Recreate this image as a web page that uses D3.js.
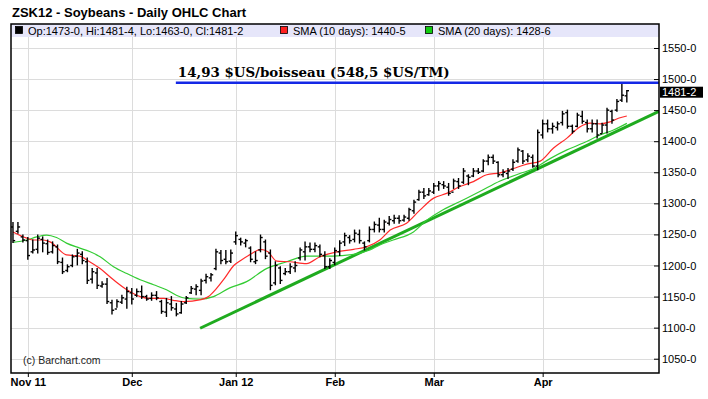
<!DOCTYPE html>
<html>
<head>
<meta charset="utf-8">
<script src="https://cdn.jsdelivr.net/npm/d3@7"></script>
<style>
  body { margin: 0; background: #fff; }
  text { font-family: "Liberation Sans", Arial, sans-serif; }
</style>
</head>
<body>
<div id="chart"></div>
<script>

// bar data (Oct 27 2011 .. Apr 26 2012, one entry per trading day)
var highs = [1269,1269,1249,1245,1241,1249,1246,1241,1238,1233,1212,1201,1217,1226,1222,1212,1195,1195,1174,1179,
             1144,1145,1152,1165,1163,1162,1167,1152,1156,1158,1144,1147,1150,1139,1142,1150,1166,1169,1178,1186,
             1187,1226,1224,1224,1225,1254,1244,1242,1230,1222,1249,1241,1225,1206,1198,1195,1203,1206,1228,1238,
             1236,1236,1233,1222,1211,1228,1240,1252,1248,1257,1257,1238,1262,1270,1276,1273,1279,1281,1280,1281,
             1292,1305,1321,1324,1324,1332,1335,1335,1332,1339,1340,1356,1346,1356,1356,1370,1378,1378,1367,1354,
             1356,1370,1389,1385,1380,1378,1418,1434,1434,1429,1431,1448,1450,1426,1445,1448,1434,1434,1434,1429,
             1453,1450,1467,1494,1481.5];
var lows  = [1237,1252,1238,1210,1220,1220,1222,1218,1220,1203,1187,1190,1198,1201,1203,1171,1172,1163,1165,1139,
             1122,1133,1139,1131,1138,1150,1147,1144,1144,1145,1123,1118,1128,1119,1123,1139,1155,1153,1153,1172,
             1175,1193,1203,1203,1205,1234,1233,1230,1206,1203,1222,1211,1161,1169,1171,1185,1187,1190,1209,1209,
             1222,1222,1214,1195,1195,1201,1216,1232,1236,1238,1236,1225,1238,1254,1254,1254,1265,1268,1268,1271,
             1273,1284,1305,1308,1313,1316,1321,1324,1313,1324,1324,1332,1330,1343,1348,1351,1362,1364,1343,1343,
             1340,1353,1366,1364,1367,1358,1354,1405,1415,1413,1418,1426,1421,1413,1423,1429,1415,1415,1405,1413,
             1413,1429,1448,1464,1463];
var opens = [1262,1255,1246,1240,1222,1226,1242,1235,1222,1230,1205,1192,1200,1215,1218,1206,1178,1188,1167,1170,
             1140,1130,1141,1146,1156,1152,1158,1150,1147,1152,1142,1125,1138,1130,1124,1140,1156,1162,1160,1176,
             1180,1195,1220,1210,1207,1238,1242,1236,1228,1206,1225,1238,1220,1172,1196,1187,1190,1196,1212,1222,
             1230,1226,1230,1216,1198,1205,1222,1238,1245,1242,1250,1236,1240,1258,1265,1258,1268,1272,1276,1273,
             1276,1288,1306,1318,1314,1318,1328,1330,1326,1318,1335,1334,1344,1344,1352,1352,1368,1374,1366,1346,
             1348,1355,1368,1384,1370,1374,1360,1410,1428,1420,1422,1430,1446,1424,1424,1440,1430,1420,1428,1412,
             1426,1448,1450,1466,1473];
var closes = [1240,1262,1241,1216,1225,1244,1236,1221,1232,1206,1190,1198,1214,1220,1208,1176,1190,1168,1170,1142,
              1128,1142,1148,1158,1146,1158,1150,1146,1152,1148,1126,1140,1132,1122,1138,1148,1163,1166,1175,1182,
              1185,1222,1208,1206,1220,1248,1238,1240,1210,1208,1245,1215,1168,1200,1176,1190,1198,1200,1225,1230,
              1226,1232,1218,1198,1208,1224,1236,1248,1240,1252,1240,1230,1258,1266,1258,1270,1274,1276,1272,1278,
              1290,1302,1318,1312,1320,1328,1332,1328,1316,1336,1328,1352,1342,1352,1350,1368,1374,1368,1346,1350,
              1352,1366,1386,1368,1376,1360,1414,1428,1420,1424,1428,1444,1424,1416,1442,1432,1420,1428,1410,1426,
              1450,1434,1464,1474,1481.25];

// moving averages: [bar index, value]
var sma10 = [[0,1254],[2.8,1244],[4.1,1241],[6.1,1241],[7.5,1238],[10.8,1217],[13.5,1215],[14.9,1209],[17.6,1195],
             [20.3,1177],[23,1161],[25.7,1150],[27.7,1147],[30.4,1147],[32.4,1144],[34.4,1142],[38,1145],[39.5,1150],
             [41,1162],[42.8,1180],[44.6,1200],[46,1208],[48,1218],[50,1226],[51.5,1222],[53.3,1207],[55.9,1206],
             [59.3,1203],[62,1214],[65.4,1222],[68.8,1226],[71.4,1230],[74.1,1241],[76.2,1257],[79.5,1268],[82.2,1289],
             [84.9,1308],[87.6,1316],[90.3,1327],[93,1335],[95.7,1346],[98.4,1349],[101.1,1356],[103.8,1363],
             [106.5,1368],[109.2,1389],[111.9,1405],[114.5,1423],[116.6,1429],[118.6,1428],[120.6,1431],[122.3,1437],
             [124,1440.6]];
var sma20 = [[0,1237],[2.8,1241],[4.8,1246],[6.8,1249],[8.8,1245],[10.8,1236],[13.5,1228],[15.6,1222],[17.6,1214],
             [20.3,1198],[23,1187],[25.7,1177],[28.4,1169],[31,1161],[33,1152],[35,1147],[37.8,1146],[40.5,1150],
             [43.8,1164],[47.2,1174],[51.2,1195],[55.3,1206],[59.3,1215],[62.7,1215],[66.5,1216],[70.1,1220],
             [72.1,1225],[74.1,1233],[76.8,1241],[80.9,1254],[83.6,1273],[86.3,1287],[90.3,1303],[94.3,1319],
             [98.4,1336],[102.4,1348],[105,1355],[108.5,1372],[111.9,1386],[115.2,1397],[118.6,1410],[121.3,1418],
             [124,1428.75]];

// drawn annotations
var trendLine = [[37.8,1099],[130.5,1448]];
var targetLine = [[32.9,1494],[130.5,1494]];
var targetLabel = "14,93 $US/boisseau (548,5 $US/TM)";

// axes
var monthTicks = [3,24,45,65,85,107];
var monthLabels = ["Nov 11","Dec","Jan 12","Feb","Mar","Apr"];
var priceTicks = [1050,1100,1150,1200,1250,1300,1350,1400,1450,1500,1550];
var lastLabel = "1481-2";

var legendItems = [
    {text: "Op:1473-0, Hi:1481-4, Lo:1463-0, Cl:1481-2", color: "#000", x: 15},
    {text: "SMA (10 days): 1440-5", color: "#ff2020", x: 280},
    {text: "SMA (20 days): 1428-6", color: "#11cc11", x: 425}
];

function drawChart(){

    var W = 708, H = 399;
    var plot = {left: 11, right: 659, top: 24, bottom: 373};

    var svg = d3.select("#chart").append("svg")
        .attr("width", W)
        .attr("height", H);

    svg.append("rect").attr("width", W).attr("height", H).attr("fill", "#fff");

    var x = d3.scaleLinear()
        .domain([-0.4, 130.5])
        .range([plot.left, plot.right]);

    var y = d3.scaleLinear()
        .domain([1027, 1588.6])
        .range([plot.bottom, plot.top]);

    // title
    svg.append("text")
        .attr("x", 12).attr("y", 17)
        .attr("font-size", "13px")
        .attr("font-weight", "bold")
        .text("ZSK12 - Soybeans - Daily OHLC Chart");

    // grid
    var grid = svg.append("g");
    grid.selectAll("line.h")
      .data(priceTicks)
      .enter().append("line")
        .attr("x1", plot.left).attr("x2", plot.right)
        .attr("y1", function(d) { return Math.round(y(d)) + 0.5; })
        .attr("y2", function(d) { return Math.round(y(d)) + 0.5; })
        .attr("stroke", "#dcdcdc");
    grid.selectAll("line.v")
      .data(monthTicks)
      .enter().append("line")
        .attr("y1", plot.top).attr("y2", plot.bottom)
        .attr("x1", function(d) { return Math.round(x(d)) + 0.5; })
        .attr("x2", function(d) { return Math.round(x(d)) + 0.5; })
        .attr("stroke", "#dcdcdc");

    // legend band
    svg.append("rect")
        .attr("x", plot.left).attr("y", plot.top)
        .attr("width", plot.right - plot.left).attr("height", 13)
        .attr("fill", "#e6e6fa");

    var leg = svg.append("g").selectAll("g")
      .data(legendItems)
      .enter().append("g");
    leg.append("rect")
        .attr("x", function(d) { return d.x + 0.5; })
        .attr("y", 26.5)
        .attr("width", 7).attr("height", 7)
        .attr("fill", function(d) { return d.color; })
        .attr("stroke", "#000")
        .attr("stroke-width", 0.8);
    leg.append("text")
        .attr("x", function(d) { return d.x + 13; })
        .attr("y", 34.5)
        .attr("font-size", "11px")
        .text(function(d) { return d.text; });

    // clip for marks
    svg.append("clipPath")
        .attr("id", "clip")
      .append("rect")
        .attr("x", plot.left).attr("y", plot.top + 13)
        .attr("width", plot.right - plot.left)
        .attr("height", plot.bottom - plot.top - 13);

    var marks = svg.append("g").attr("clip-path", "url(#clip)");

    // trend line
    var line = d3.line()
        .x(function(d) { return x(d[0]); })
        .y(function(d) { return y(d[1]); });

    marks.append("path")
        .datum(trendLine)
        .attr("d", line)
        .attr("fill", "none")
        .attr("stroke", "#1fab1f")
        .attr("stroke-width", 3);

    // moving averages
    var smooth = d3.line()
        .curve(d3.curveMonotoneX)
        .x(function(d) { return x(d[0]); })
        .y(function(d) { return y(d[1]); });

    marks.append("path")
        .datum(sma20)
        .attr("d", smooth)
        .attr("fill", "none")
        .attr("stroke", "#33cc33")
        .attr("stroke-width", 1.2);

    marks.append("path")
        .datum(sma10)
        .attr("d", smooth)
        .attr("fill", "none")
        .attr("stroke", "#ff2a2a")
        .attr("stroke-width", 1.2);

    // OHLC bars
    var bars = marks.append("g")
        .attr("stroke", "#000")
        .attr("stroke-width", 1.4)
      .selectAll("g")
      .data(d3.range(highs.length))
      .enter().append("g");

    bars.append("line")
        .attr("x1", function(i) { return x(i); })
        .attr("x2", function(i) { return x(i); })
        .attr("y1", function(i) { return y(highs[i]) - 0.5; })
        .attr("y2", function(i) { return y(lows[i]) + 0.5; });
    bars.append("line")
        .attr("x1", function(i) { return x(i) - 2.2; })
        .attr("x2", function(i) { return x(i); })
        .attr("y1", function(i) { return y(opens[i]); })
        .attr("y2", function(i) { return y(opens[i]); });
    bars.append("line")
        .attr("x1", function(i) { return x(i); })
        .attr("x2", function(i) { return x(i) + 2.2; })
        .attr("y1", function(i) { return y(closes[i]); })
        .attr("y2", function(i) { return y(closes[i]); });

    // target level
    marks.append("path")
        .datum(targetLine)
        .attr("d", line)
        .attr("fill", "none")
        .attr("stroke", "#1428e6")
        .attr("stroke-width", 2.5);

    svg.append("text")
        .attr("x", x(targetLine[0][0]) + 2)
        .attr("y", 77)
        .attr("font-weight", "bold")
        .attr("font-size", "13.4px")
        .style("font-family", "'DejaVu Serif', serif")
        .text(targetLabel);

    svg.append("text")
        .attr("x", 23).attr("y", 364)
        .attr("font-size", "10.5px")
        .attr("fill", "#222")
        .text("(c) Barchart.com");

    // frame
    svg.append("rect")
        .attr("x", plot.left).attr("y", plot.top)
        .attr("width", plot.right - plot.left)
        .attr("height", plot.bottom - plot.top)
        .attr("fill", "none")
        .attr("stroke", "#000")
        .attr("stroke-width", 1.5);

    // right axis
    var yAxis = svg.append("g")
        .attr("transform", "translate(" + plot.right + ",0)")
        .call(d3.axisRight(y)
            .tickValues(priceTicks)
            .tickSize(-5)
            .tickPadding(3)
            .tickFormat(function(d) { return d + "-0"; }));
    yAxis.select(".domain").remove();
    yAxis.selectAll("text").attr("font-size", "11px").attr("font-family", null);

    // last price label
    var lastY = y(closes[closes.length - 1]);
    svg.append("rect")
        .attr("x", plot.right + 1).attr("y", lastY - 4)
        .attr("width", 43).attr("height", 11)
        .attr("fill", "#000");
    svg.append("text")
        .attr("x", plot.right + 3).attr("y", lastY + 5.5)
        .attr("font-size", "11px")
        .attr("fill", "#fff")
        .text(lastLabel);

    // bottom axis
    var xAxis = svg.append("g")
        .attr("transform", "translate(0," + plot.bottom + ")")
        .call(d3.axisBottom(x)
            .tickValues(monthTicks)
            .tickSize(4)
            .tickPadding(1.5)
            .tickFormat(function(d, i) { return monthLabels[i]; }));
    xAxis.select(".domain").remove();
    xAxis.selectAll("text")
        .attr("font-size", "11px")
        .attr("font-weight", "bold")
        .attr("font-family", null);
}

drawChart();
</script>
</body>
</html>
